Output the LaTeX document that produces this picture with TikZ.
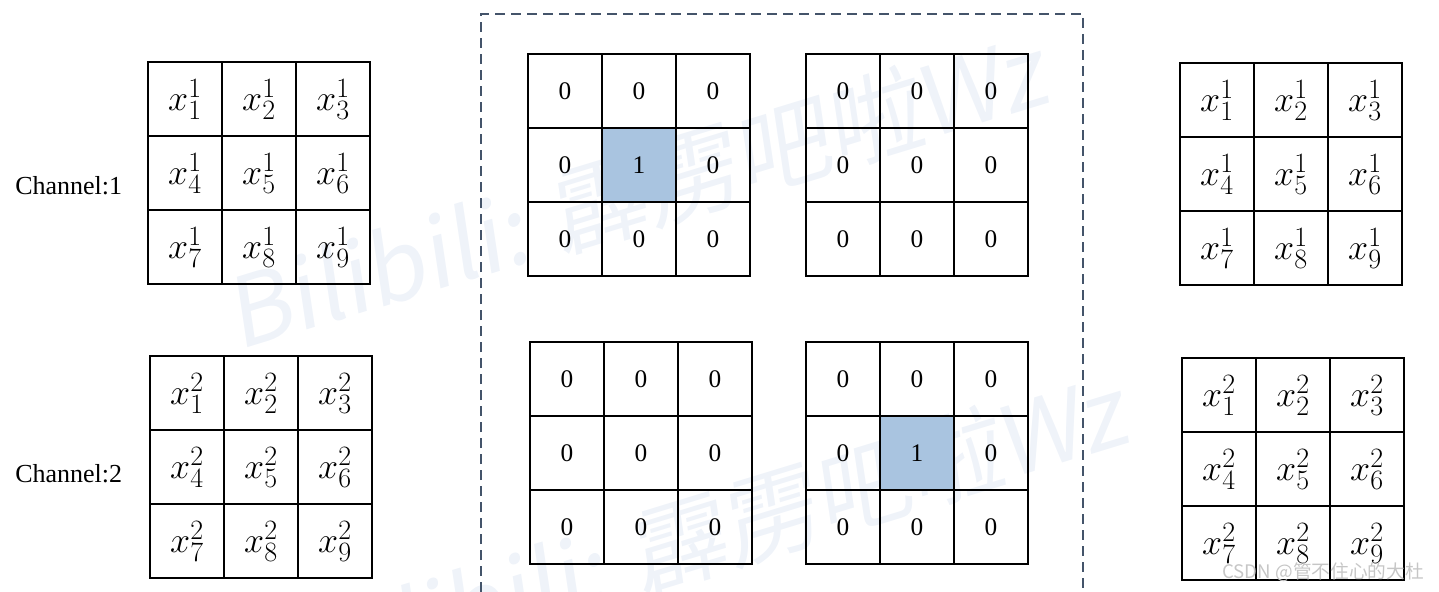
\RequirePackage{fix-cm}
\documentclass[tikz,border=0pt]{standalone}
\usepackage{fontspec}
\setmainfont{Liberation Serif}
\newfontfamily\cjk{Noto Sans CJK SC}
\DeclareMathSizes{27}{27}{21}{15}
\definecolor{hotblue}{RGB}{169,196,224}
\definecolor{boxslate}{RGB}{68,84,106}
\definecolor{wmark}{RGB}{239,243,249}
\newcommand\xgrid[4]{%
  \foreach \r in {0,1,2}{\foreach \c in {0,1,2}{%
    \pgfmathtruncatemacro\k{3*\r+\c+1}%
    \node[xcell] (#1\k) at ({#2+37+74*\c},{#3+37+74*\r}) {$x^{#4}_{\k}$};
  }}}
\newcommand\zgrid[4]{%
  \foreach \r in {0,1,2}{\foreach \c in {0,1,2}{%
    \pgfmathtruncatemacro\k{3*\r+\c+1}%
    \ifnum\k=#4\relax
      \node[zcell,fill=hotblue] (#1\k) at ({#2+37+74*\c},{#3+37+74*\r}) {1};
    \else
      \node[zcell] (#1\k) at ({#2+37+74*\c},{#3+37+74*\r}) {0};
    \fi
  }}}
\begin{document}
\begin{tikzpicture}[x=0.75pt,y=-0.75pt,
  cell/.style={draw=black,line width=1.6pt,minimum width=55.5pt,minimum height=55.5pt,inner sep=0pt},
  xcell/.style={cell,font=\fontsize{27}{30}\selectfont},
  zcell/.style={cell,font=\fontsize{19}{22}\selectfont},
  lbl/.style={font=\fontsize{19.5}{22}\selectfont,anchor=west,inner sep=0pt},
  wm/.style={text=wmark,font=\cjk\fontsize{72}{76}\selectfont,rotate=17,inner sep=0pt,xslant=0.15},
  framebox/.style={draw=boxslate,line width=1.5pt,dash pattern=on 7.5pt off 4.5pt}]
\useasboundingbox (0,0) rectangle (1439,592);
% watermarks
\node[wm] (wm1) at (640,190) {Bilibili: 霹雳吧啦Wz};
\node[wm] (wm2) at (720,530) {Bilibili: 霹雳吧啦Wz};
% dashed frame
\draw[framebox] (481,592) -- (481,14) -- (1083,14) -- (1083,592);
% labels
\node[lbl] (ch1) at (15,186) {Channel:1};
\node[lbl] (ch2) at (15,474) {Channel:2};
% input channels
\xgrid{A}{148}{62}{1}
\xgrid{B}{150}{356}{2}
% kernels
\zgrid{K}{528}{54}{5}
\zgrid{L}{806}{54}{0}
\zgrid{M}{530}{342}{0}
\zgrid{N}{806}{342}{5}
% outputs
\xgrid{R}{1180}{63}{1}
\xgrid{S}{1182}{358}{2}
% CSDN mark
\node[text=gray!45,font=\cjk\fontsize{14}{16}\selectfont,anchor=east,inner sep=0pt] (csdn) at (1424,572) {CSDN @管不住心的大杜};
\end{tikzpicture}
\end{document}
